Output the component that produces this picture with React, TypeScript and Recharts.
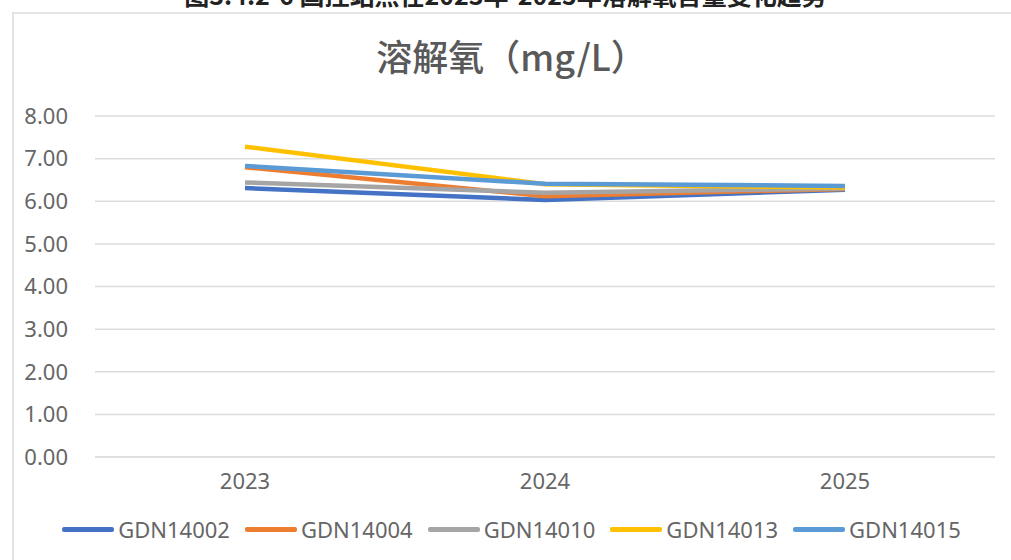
import React from 'react';
import { LineChart, Line, XAxis, YAxis, CartesianGrid, Legend } from 'recharts';

const years = ['2023', '2024', '2025'];
const gdn14002 = [6.31, 6.03, 6.27];
const gdn14004 = [6.8, 6.12, 6.29];
const gdn14010 = [6.44, 6.2, 6.3];
const gdn14013 = [7.28, 6.4, 6.32];
const gdn14015 = [6.83, 6.41, 6.36];
const yTicks = [0, 1, 2, 3, 4, 5, 6, 7, 8];

const series = [
  { key: 'GDN14002', values: gdn14002, color: '#4472C4' },
  { key: 'GDN14004', values: gdn14004, color: '#ED7D31' },
  { key: 'GDN14010', values: gdn14010, color: '#A5A5A5' },
  { key: 'GDN14013', values: gdn14013, color: '#FFC000' },
  { key: 'GDN14015', values: gdn14015, color: '#5B9BD5' },
];

const data = years.map((year, i) => {
  const row: Record<string, string | number> = { year };
  series.forEach(s => { row[s.key] = s.values[i]; });
  return row;
});

const font = '"Noto Sans", sans-serif';

const LegendContent = () => (
  <div style={{ display: 'flex', justifyContent: 'center', gap: 15, fontFamily: font, fontSize: 22, color: '#666', paddingLeft: 12 }}>
    {series.map(s => (
      <div key={s.key} style={{ display: 'flex', alignItems: 'center' }}>
        <span style={{ display: 'inline-block', width: 52, height: 5, background: s.color, borderRadius: 2, marginRight: 4 }} />
        <span>{s.key}</span>
      </div>
    ))}
  </div>
);

export default function App() {
  return (
    <div style={{ position: 'absolute', left: 0, top: 0, width: 1011, height: 560, background: '#fff', overflow: 'hidden' }}>
      <div style={{ position: 'absolute', top: -24, left: 0, width: 1011, textAlign: 'center', fontFamily: '"Noto Sans CJK SC", sans-serif', fontWeight: 700, fontSize: 25, color: '#222' }}>
        图3.4.2-6 国控站点在2023年-2025年溶解氧含量变化趋势
      </div>
      <div style={{ position: 'absolute', top: 12, left: 12, width: 1011, height: 560, borderTop: '2px solid #E4E4E4', borderLeft: '2px solid #E4E4E4' }} />
      <div style={{ position: 'absolute', top: 29, left: 6, width: 1011, textAlign: 'center', fontFamily: '"Noto Sans CJK SC", sans-serif', fontWeight: 500, fontSize: 36, color: '#595959' }}>
        溶解氧（mg/L）
      </div>
      <div style={{ position: 'absolute', top: 0, left: 0 }}>
        <LineChart width={1011} height={560} data={data} margin={{ top: 116, right: 16, left: 0, bottom: 30 }}>
          <CartesianGrid vertical={false} stroke="#DCDCDC" strokeWidth={1.5} />
          <XAxis
            dataKey="year"
            padding={{ left: 150, right: 150 }}
            axisLine={{ stroke: '#DCDCDC', strokeWidth: 1.5 }}
            tickLine={false}
            tickSize={0}
            tickMargin={16}
            height={43}
            tick={{ fill: '#666', fontSize: 22, fontFamily: font }}
          />
          <YAxis
            domain={[0, 8]}
            ticks={yTicks}
            width={95}
            axisLine={false}
            tickLine={false}
            tickSize={0}
            tickMargin={27}
            tickFormatter={(v: number) => v.toFixed(2)}
            tick={{ fill: '#666', fontSize: 22, fontFamily: font }}
          />
          <Legend
            content={<LegendContent />}
            wrapperStyle={{ position: 'absolute', top: 514, left: 0, width: 1011, height: 30 }}
          />
          {series.map(s => (
            <Line
              key={s.key}
              type="linear"
              dataKey={s.key}
              stroke={s.color}
              strokeWidth={4.5}
              dot={false}
              activeDot={false}
              isAnimationActive={false}
            />
          ))}
        </LineChart>
      </div>
    </div>
  );
}
